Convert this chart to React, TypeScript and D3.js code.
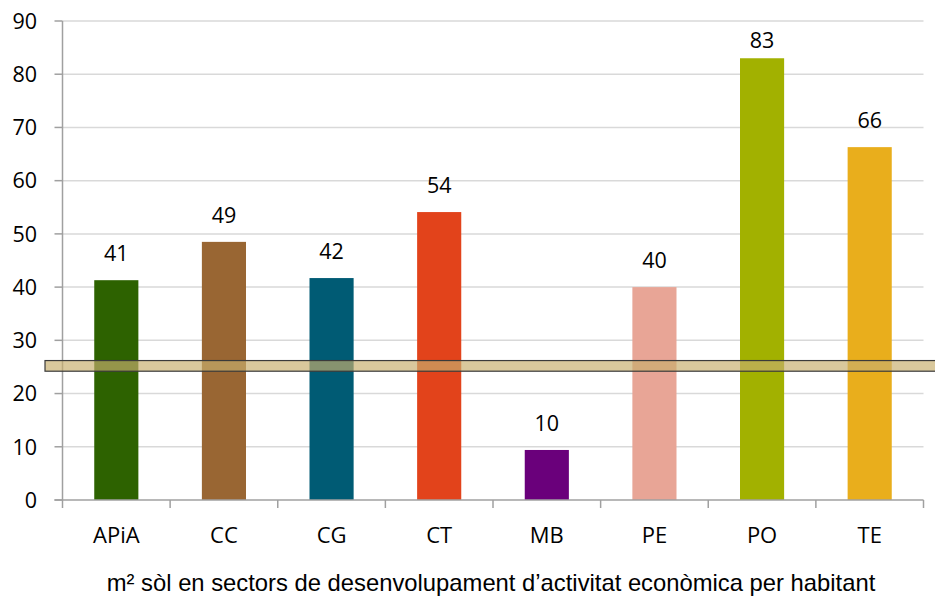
import React from "react";
import * as d3 from "d3";

const categories = ["APiA", "CC", "CG", "CT", "MB", "PE", "PO", "TE"];
const values = [41.3, 48.5, 41.7, 54.1, 9.4, 40.0, 83.0, 66.3];
const labels = ["41", "49", "42", "54", "10", "40", "83", "66"];
const barColors = ["#2d6200", "#996633", "#005b74", "#e2431b", "#6a007b", "#e8a596", "#a2b100", "#e9ae1c"];
const yTicks = [0, 10, 20, 30, 40, 50, 60, 70, 80, 90];
const bandRange = [24.2, 26.2];
const axisTitle = "m² sòl en sectors de desenvolupament d’activitat econòmica per habitant";

const W = 935;
const H = 597;
const plot = { left: 62.5, right: 923.5, top: 21, bottom: 500 };
const tickFont = "'Open Sans', 'DejaVu Sans', sans-serif";

export default function App() {
  const x = d3
    .scaleBand<string>()
    .domain(categories)
    .range([plot.left, plot.right])
    .paddingInner(0.59)
    .paddingOuter(0.295);
  const y = d3.scaleLinear().domain([0, 90]).range([plot.bottom, plot.top]);
  const step = x.step();
  const boundaries = d3.range(categories.length + 1).map((i) => plot.left + i * step);

  return (
    <svg
      width={W}
      height={H}
      style={{ position: "absolute", left: 0, top: 0, background: "#fff" }}
    >
      {/* horizontal gridlines */}
      {yTicks.slice(1).map((t) => (
        <line
          key={"g" + t}
          x1={plot.left}
          x2={plot.right}
          y1={y(t)}
          y2={y(t)}
          stroke="#d9d9d9"
          strokeWidth={1.5}
        />
      ))}

      {/* bars */}
      {categories.map((c, i) => (
        <rect
          key={c}
          x={x(c)}
          y={y(values[i])}
          width={x.bandwidth()}
          height={y(0) - y(values[i])}
          fill={barColors[i]}
        />
      ))}

      {/* value labels */}
      {categories.map((c, i) => (
        <text
          key={"l" + c}
          x={(x(c) as number) + x.bandwidth() / 2}
          y={Math.max(y(values[i]) - 19, 48)}
          textAnchor="middle"
          fontFamily={tickFont}
          fontSize={21.5}
          fill="#000"
        >
          {labels[i]}
        </text>
      ))}

      {/* y axis */}
      <line x1={plot.left} x2={plot.left} y1={plot.top} y2={plot.bottom} stroke="#a0a0a0" strokeWidth={1.5} />
      {yTicks.map((t) => (
        <g key={"y" + t}>
          <line x1={plot.left - 8} x2={plot.left} y1={y(t)} y2={y(t)} stroke="#a0a0a0" strokeWidth={1.5} />
          <text
            x={37}
            y={y(t)}
            dy="0.36em"
            textAnchor="end"
            fontFamily={tickFont}
            fontSize={21.5}
            fill="#000"
          >
            {t}
          </text>
        </g>
      ))}

      {/* x axis */}
      <line x1={plot.left - 8} x2={plot.right} y1={plot.bottom} y2={plot.bottom} stroke="#a0a0a0" strokeWidth={1.5} />
      {boundaries.map((bx, i) => (
        <line key={"xt" + i} x1={bx} x2={bx} y1={plot.bottom} y2={plot.bottom + 8} stroke="#a0a0a0" strokeWidth={1.5} />
      ))}
      {categories.map((c) => (
        <text
          key={"xl" + c}
          x={(x(c) as number) + x.bandwidth() / 2}
          y={543}
          textAnchor="middle"
          fontFamily={tickFont}
          fontSize={22}
          fill="#000"
        >
          {c}
        </text>
      ))}

      {/* reference band */}
      <rect
        x={45}
        y={y(bandRange[1])}
        width={W - 45 + 2}
        height={y(bandRange[0]) - y(bandRange[1])}
        fill="rgb(199,174,109)"
        fillOpacity={0.68}
        stroke="#3a3a3a"
        strokeWidth={1.2}
      />

      {/* axis title */}
      <text
        x={491}
        y={591}
        textAnchor="middle"
        fontFamily="'Liberation Sans', Arial, sans-serif"
        fontSize={23.8}
        fill="#000"
      >
        {axisTitle}
      </text>
    </svg>
  );
}
